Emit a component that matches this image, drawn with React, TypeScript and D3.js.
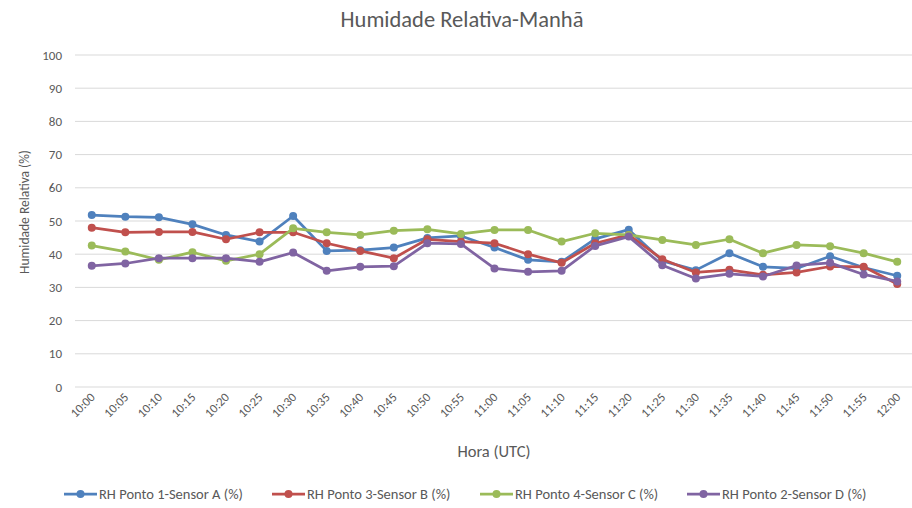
import React, { useEffect, useRef } from 'react';
import * as d3 from 'd3';

const times = ['10:00', '10:05', '10:10', '10:15', '10:20', '10:25', '10:30', '10:35', '10:40', '10:45', '10:50', '10:55', '11:00',
  '11:05', '11:10', '11:15', '11:20', '11:25', '11:30', '11:35', '11:40', '11:45', '11:50', '11:55', '12:00'];

const sensorA = [51.8, 51.3, 51.1, 49, 45.8, 43.8, 51.5, 41, 41.2, 42, 44.9, 45.5, 42, 38.3, 37.7, 44.6, 47.4, 38, 35.2, 40.3, 36.2, 35.7, 39.4, 36, 33.5];
const sensorB = [48, 46.6, 46.7, 46.7, 44.5, 46.6, 46.6, 43.3, 41, 38.8, 44.5, 43.8, 43.3, 40, 37.4, 43.3, 45.8, 38.5, 34.5, 35.3, 33.8, 34.5, 36.3, 36.2, 31];
const sensorC = [42.6, 40.8, 38.3, 40.6, 38, 40, 47.8, 46.6, 45.8, 47.1, 47.5, 46.1, 47.3, 47.3, 43.8, 46.3, 45.8, 44.3, 42.8, 44.5, 40.3, 42.8, 42.4, 40.3, 37.7];
const sensorD = [36.5, 37.2, 38.8, 38.8, 38.8, 37.7, 40.5, 35, 36.2, 36.4, 43.3, 43.1, 35.7, 34.7, 35, 42.5, 45.3, 36.7, 32.7, 34.1, 33.3, 36.6, 37.4, 33.9, 31.8];

const seriesNames = ['RH Ponto 1-Sensor A (%)', 'RH Ponto 3-Sensor B (%)', 'RH Ponto 4-Sensor C (%)', 'RH Ponto 2-Sensor D (%)'];
const seriesColors = ['#4F81BD', '#C0504D', '#9BBB59', '#8064A2'];
const yTicks = [0, 10, 20, 30, 40, 50, 60, 70, 80, 90, 100];

const FONT = 'Carlito, Lato, sans-serif';
const TEXT = '#595959';

const App = () => {
  const svgRef = useRef(null);

  useEffect(() => {
    document.body.style.margin = '0';
    const svg = d3.select(svgRef.current);
    svg.selectAll('*').remove();

    const width = 912;
    const height = 508;
    svg.attr('width', width).attr('height', height);

    const x = d3.scaleBand().domain(times).range([75, 914]);
    const cx = (t) => x(t) + x.bandwidth() / 2;
    const y = d3.scaleLinear().domain([0, 100]).range([387, 55]);

    svg.append('rect').attr('width', width).attr('height', height).attr('fill', '#fff');

    // title
    svg.append('text')
      .attr('x', 462).attr('y', 27)
      .attr('text-anchor', 'middle')
      .style('font-family', FONT).style('font-size', '22.5px').attr('fill', TEXT)
      .text('Humidade Relativa-Manhã');

    // gridlines
    svg.append('g').selectAll('line')
      .data(yTicks).enter().append('line')
      .attr('x1', 75).attr('x2', 914)
      .attr('y1', d => y(d)).attr('y2', d => y(d))
      .attr('stroke', '#D9D9D9').attr('stroke-width', 1);

    // y labels
    svg.append('g').selectAll('text')
      .data(yTicks).enter().append('text')
      .attr('x', 62).attr('y', d => y(d) + 4.5)
      .attr('text-anchor', 'end')
      .style('font-family', FONT).style('font-size', '13px').attr('fill', TEXT)
      .text(d => d);

    svg.append('text')
      .attr('transform', `translate(29, ${212}) rotate(-90)`)
      .attr('text-anchor', 'middle')
      .style('font-family', FONT).style('font-size', '13.5px').attr('fill', TEXT)
      .text('Humidade Relativa (%)');

    // x labels
    svg.append('g').selectAll('text')
      .data(times).enter().append('text')
      .attr('transform', d => `translate(${cx(d) + 4}, ${398}) rotate(-45)`)
      .attr('text-anchor', 'end')
      .style('font-family', FONT).style('font-size', '12.5px').attr('fill', TEXT)
      .text(d => d);

    svg.append('text')
      .attr('x', 494).attr('y', 457)
      .attr('text-anchor', 'middle')
      .style('font-family', FONT).style('font-size', '16.5px').attr('fill', TEXT)
      .text('Hora (UTC)');

    const series = [sensorA, sensorB, sensorC, sensorD];
    const line = d3.line().x((d, i) => cx(times[i])).y(d => y(d));

    series.forEach((vals, s) => {
      const g = svg.append('g');
      g.append('path')
        .attr('d', line(vals))
        .attr('fill', 'none')
        .attr('stroke', seriesColors[s])
        .attr('stroke-width', 2.75)
        .attr('stroke-linejoin', 'round');
      g.selectAll('circle')
        .data(vals).enter().append('circle')
        .attr('cx', (d, i) => cx(times[i]))
        .attr('cy', d => y(d))
        .attr('r', 4)
        .attr('fill', seriesColors[s]);
    });

    // legend
    const legendX = [64, 272, 480, 687];
    const legend = svg.append('g').selectAll('g')
      .data(seriesNames).enter().append('g')
      .attr('transform', (d, i) => `translate(${legendX[i]}, 494)`);
    legend.append('line')
      .attr('x1', 0).attr('x2', 33).attr('y1', 0).attr('y2', 0)
      .attr('stroke', (d, i) => seriesColors[i]).attr('stroke-width', 2.75);
    legend.append('circle')
      .attr('cx', 16.5).attr('cy', 0).attr('r', 4)
      .attr('fill', (d, i) => seriesColors[i]);
    legend.append('text')
      .attr('x', 35).attr('y', 5)
      .style('font-family', FONT).style('font-size', '14.5px').attr('fill', TEXT)
      .text(d => d);
  }, []);

  return <svg ref={svgRef} style={{ display: 'block' }}></svg>;
};

export default App;
